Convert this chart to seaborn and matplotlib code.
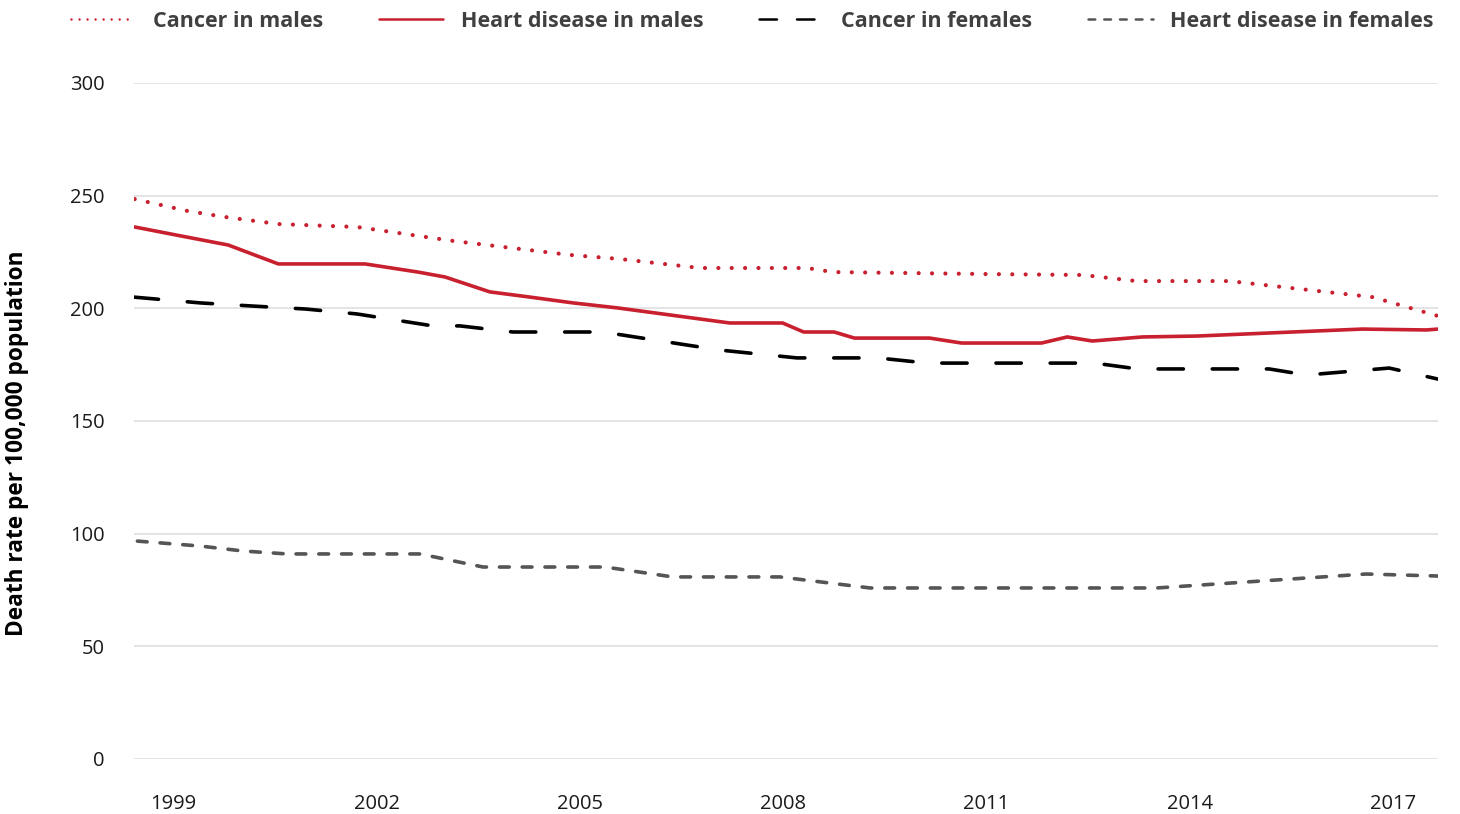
import matplotlib
matplotlib.use("Agg")
import matplotlib.pyplot as plt
import seaborn as sns

# ── data (x in decimal years) ──────────────────────────────────
cancer_m_x = [1998.43, 1999.21, 1999.77, 2000.55, 2001.71, 2003.13, 2004.85,
              2005.59, 2006.77, 2008.35, 2008.73, 2011.04, 2012.42, 2013.21,
              2014.58, 2016.69, 2016.90, 2017.66]
cancer_m_y = [248.5, 243.2, 240.5, 237.4, 236.1, 229.9, 223.7,
              221.9, 217.9, 217.9, 216.1, 215.2, 214.8, 212.1,
              212.1, 205.0, 203.2, 196.6]

heart_m_x = [1998.43, 1999.10, 1999.81, 2000.55, 2001.83, 2002.61, 2003.01,
             2003.67, 2004.26, 2004.90, 2005.55, 2007.21, 2007.99, 2008.30,
             2008.75, 2009.05, 2010.16, 2010.63, 2011.81, 2012.19, 2012.56,
             2013.30, 2014.10, 2016.54, 2017.49, 2017.66]
heart_m_y = [236.1, 232.2, 228.1, 219.7, 219.7, 216.1, 213.9,
             207.3, 205.0, 202.4, 200.2, 193.5, 193.5, 189.5,
             189.5, 186.8, 186.8, 184.6, 184.6, 187.3, 185.5,
             187.3, 187.7, 190.8, 190.4, 190.8]

cancer_f_x = [1998.41, 1999.40, 2000.18, 2000.95, 2001.71, 2002.83, 2003.23,
              2004.01, 2005.34, 2006.28, 2007.06, 2008.20, 2009.39, 2010.13,
              2012.59, 2013.23, 2015.17, 2015.72, 2016.94, 2017.66]
cancer_f_y = [205.0, 202.4, 201.0, 199.7, 197.5, 192.2, 192.2,
              189.5, 189.5, 185.1, 181.5, 178.0, 178.0, 175.7,
              175.7, 173.1, 173.1, 170.4, 173.5, 168.6]

heart_f_x = [1998.47, 1999.40, 2000.03, 2000.68, 2002.64, 2003.57, 2005.37,
             2006.37, 2007.95, 2009.28, 2013.51, 2016.60, 2017.66]
heart_f_y = [96.7, 94.5, 92.3, 91.0, 91.0, 85.2, 85.2,
             80.8, 80.8, 75.9, 75.9, 82.1, 81.2]

year_ticks = [1999, 2002, 2005, 2008, 2011, 2014, 2017]
y_ticks = [0, 50, 100, 150, 200, 250, 300]

RED = "#c8202f"

sns.set_theme(style="white")
plt.rcParams["font.family"] = ["Open Sans", "DejaVu Sans"]

fig = plt.figure(figsize=(14.6, 8.14), dpi=100)
ax = fig.add_axes([134 / 1460, 1 - 759 / 814, (1438 - 134) / 1460, (759 - 83) / 814])

sns.lineplot(x=cancer_m_x, y=cancer_m_y, ax=ax, color=RED, lw=3.0,
             linestyle=(0, (0.01, 3.2)), dash_capstyle="round",
             label="Cancer in males")
sns.lineplot(x=heart_m_x, y=heart_m_y, ax=ax, color=RED, lw=2.6,
             label="Heart disease in males")
sns.lineplot(x=cancer_f_x, y=cancer_f_y, ax=ax, color="black", lw=2.6,
             linestyle=(0, (7, 8)), dash_capstyle="round",
             label="Cancer in females")
sns.lineplot(x=heart_f_x, y=heart_f_y, ax=ax, color="#555555", lw=2.6,
             linestyle=(0, (2.7, 3.6)), dash_capstyle="round",
             label="Heart disease in females")

ax.set_xlim(1998.42, 2017.66)
ax.set_ylim(0, 300)
ax.set_xticks(year_ticks)
ax.set_xticklabels([str(y) for y in year_ticks])
ax.set_yticks(y_ticks)
ax.set_yticklabels([str(v) for v in y_ticks])
ax.tick_params(axis="x", length=0, pad=25, labelsize=14.5, labelcolor="#1a1a1a")
ax.tick_params(axis="y", length=0, pad=21, labelsize=14.5, labelcolor="#1a1a1a")
ax.yaxis.grid(True, color="#dcdcdc", lw=1.1)
ax.xaxis.grid(False)
sns.despine(ax=ax, left=True, bottom=True)
ax.set_xlabel("")
ax.set_ylabel("")

fig.text(17 / 1460, 1 - 443 / 814, "Death rate per 100,000 population",
         rotation=90, ha="center", va="center", fontsize=16.3,
         fontweight="bold", color="black")

# legend across the top
handles, labels = ax.get_legend_handles_labels()
ax.get_legend().remove()
leg = fig.legend(handles, labels, loc="upper right",
                 bbox_to_anchor=(1442 / 1460, 1 - 2 / 814), borderaxespad=0,
                 ncol=4, frameon=False, handlelength=3.0,
                 handletextpad=0.8, columnspacing=2.6,
                 prop={"weight": "bold", "size": 15.5})
for t in leg.get_texts():
    t.set_color("#404040")
for h in leg.get_lines():
    h.set_linewidth(1.8)

fig.savefig("out.png", dpi=100)
